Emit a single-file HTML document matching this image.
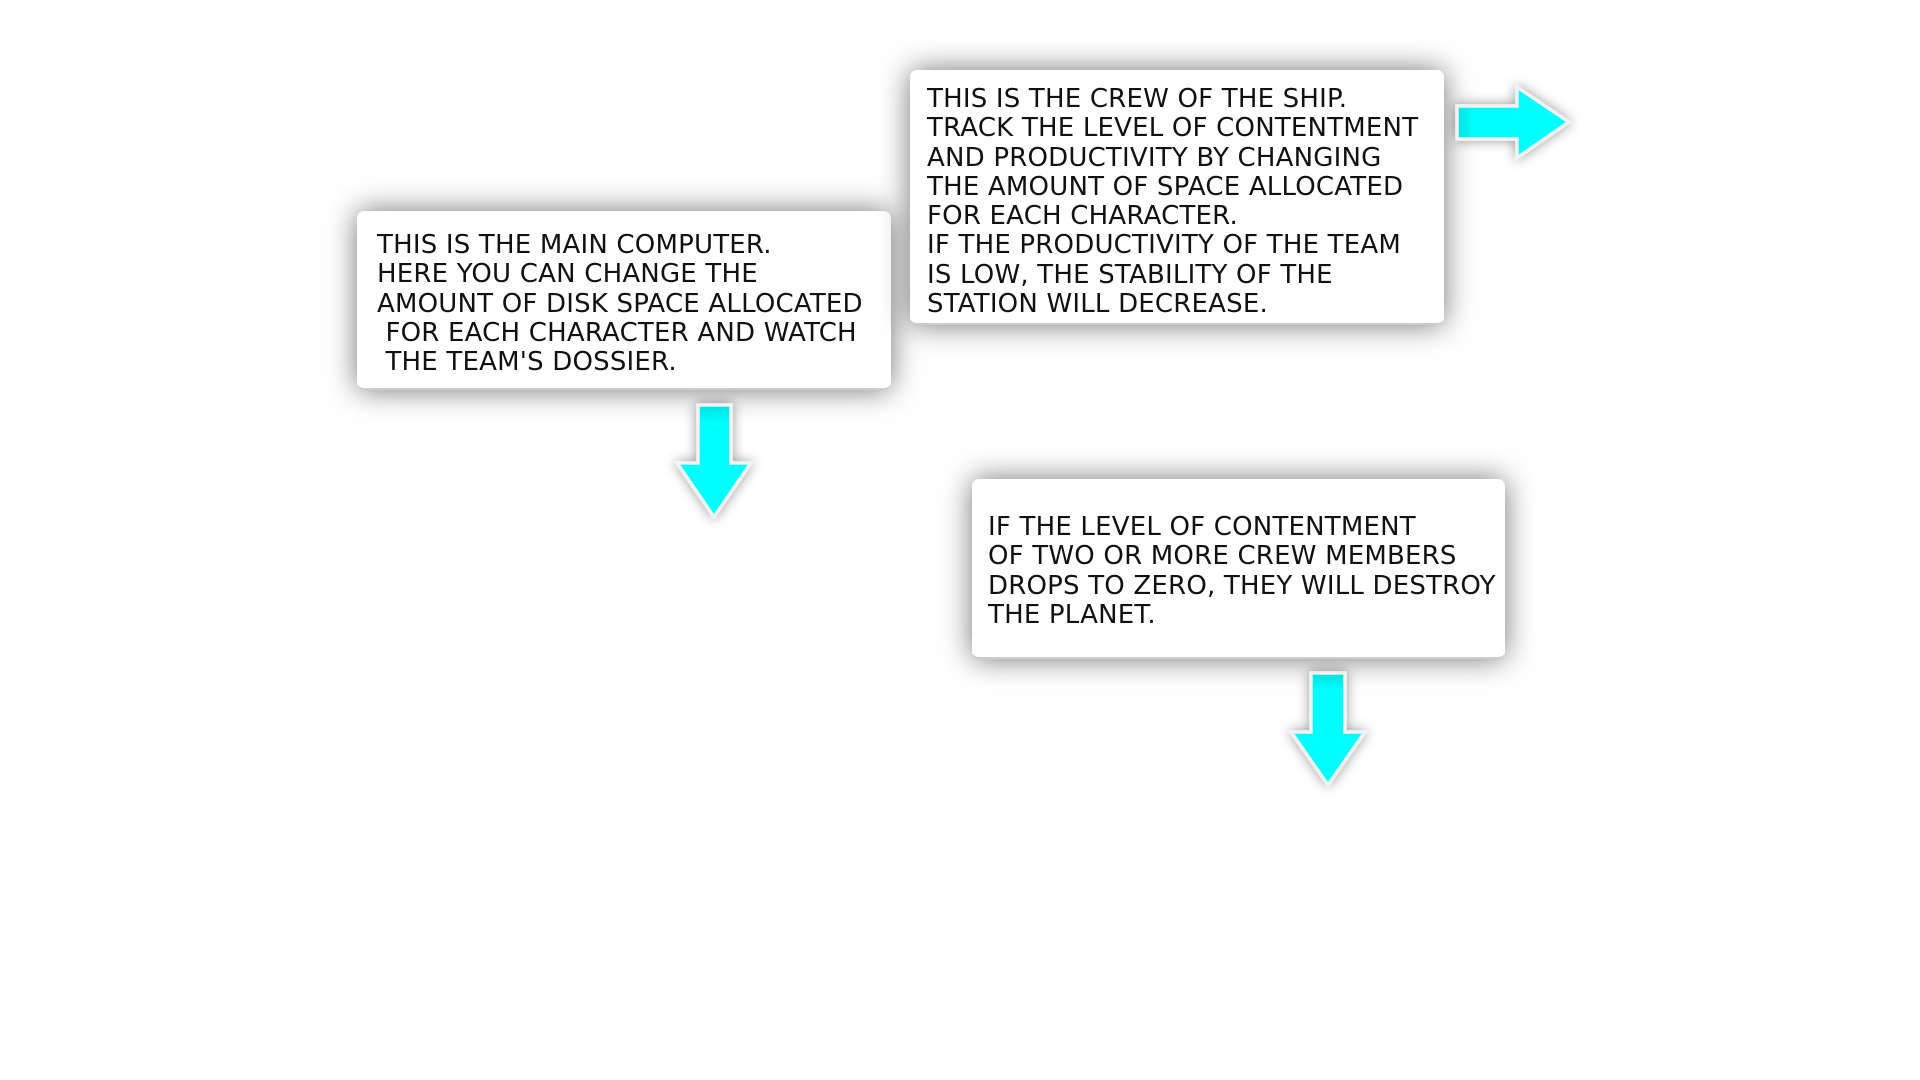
<!DOCTYPE html>
<html><head><meta charset="utf-8"><style>
html,body{margin:0;padding:0;width:1920px;height:1080px;background:#fff;overflow:hidden}
.b{position:absolute;background:#fff;border-radius:7px;box-shadow:0 0 30px rgba(0,0,0,0.55);border-bottom:2px solid #ccc;box-sizing:border-box}
.t{position:absolute;font-family:"DejaVu Sans","Liberation Sans",sans-serif;font-size:26px;line-height:29.3px;color:#111;white-space:pre;letter-spacing:0.2px}
svg{position:absolute;left:0;top:0}
</style></head><body>
<div class="b" style="left:357px;top:211px;width:534px;height:179px"></div>
<div class="t" style="left:377px;top:231px">THIS IS THE MAIN COMPUTER.
HERE YOU CAN CHANGE THE
AMOUNT OF DISK SPACE ALLOCATED
 FOR EACH CHARACTER AND WATCH
 THE TEAM'S DOSSIER.</div>
<div class="b" style="left:910px;top:70px;width:534px;height:255px"></div>
<div class="t" style="left:927px;top:85px">THIS IS THE CREW OF THE SHIP.
TRACK THE LEVEL OF CONTENTMENT
AND PRODUCTIVITY BY CHANGING
THE AMOUNT OF SPACE ALLOCATED
FOR EACH CHARACTER.
IF THE PRODUCTIVITY OF THE TEAM
IS LOW, THE STABILITY OF THE
STATION WILL DECREASE.</div>
<div class="b" style="left:972px;top:479px;width:533px;height:180px"></div>
<div class="t" style="left:988px;top:513px">IF THE LEVEL OF CONTENTMENT
OF TWO OR MORE CREW MEMBERS
DROPS TO ZERO, THEY WILL DESTROY
THE PLANET.</div>
<svg width="1920" height="1080">
<defs><filter id="s" x="-50%" y="-50%" width="200%" height="200%"><feDropShadow dx="0" dy="0" stdDeviation="6" flood-color="#000" flood-opacity="0.4"/></filter>
<linearGradient id="g" x1="0" y1="0" x2="0" y2="1"><stop offset="0" stop-color="#00dede"/><stop offset="0.15" stop-color="#00ffff"/></linearGradient>
<linearGradient id="gr" x1="0" y1="0" x2="1" y2="0"><stop offset="0" stop-color="#00dede"/><stop offset="0.15" stop-color="#00ffff"/></linearGradient></defs>
<g filter="url(#s)" stroke="#f2f2f2" stroke-width="3.5" stroke-linejoin="miter">
<polygon fill="url(#g)" points="698,405 731,405 731,463 751,463 714,517 677,463 698,463"/>
<polygon fill="url(#g)" points="1311,673 1345,673 1345,732 1365,732 1328,785 1291,732 1311,732"/>
<polygon fill="url(#gr)" points="1457,106 1517,106 1517,87 1569,122 1517,158 1517,139 1457,139"/>
</g>
</svg>
</body></html>
